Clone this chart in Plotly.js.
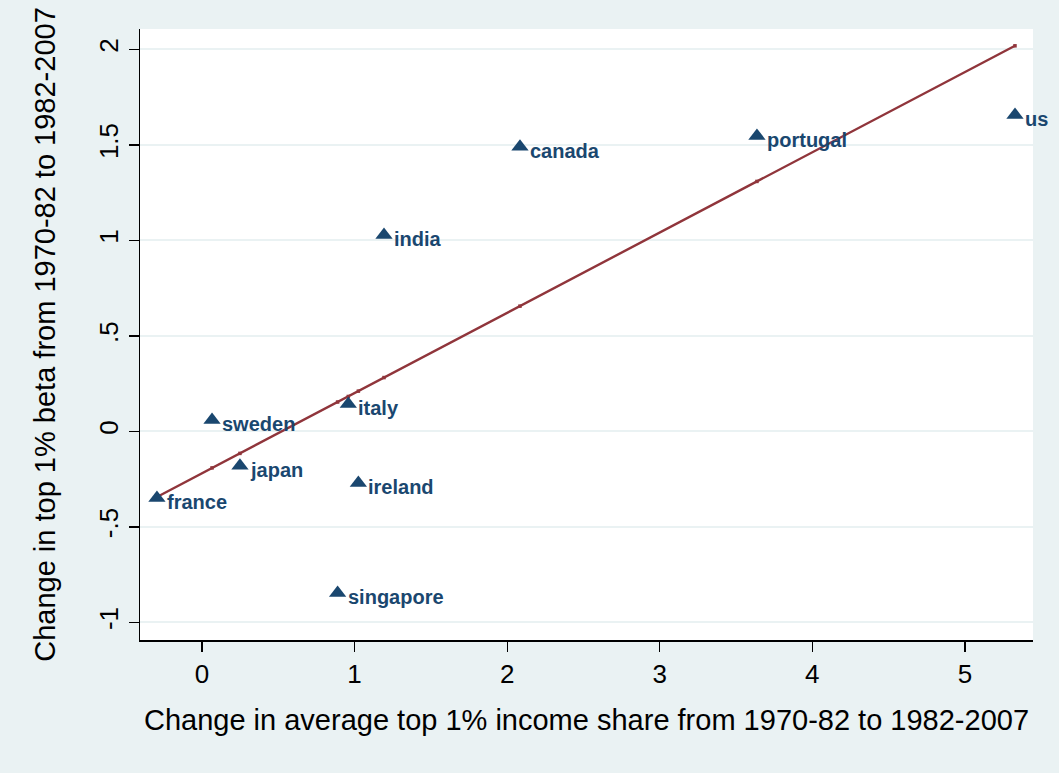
<!DOCTYPE html>
<html>
<head>
<meta charset="utf-8">
<script src="https://cdn.plot.ly/plotly-3.0.1.min.js"></script>
<style>
  html, body { margin: 0; padding: 0; background: #eaf2f3; }
  #chart { width: 1059px; height: 773px; }
</style>
</head>
<body>
<div id="chart"></div>
<script>
// Countries and their changes between 1970-82 and 1982-2007
const countries = ["france", "sweden", "japan", "italy", "ireland", "singapore", "india", "canada", "portugal", "us"];
// Change in average top 1% income share (x)
const shareChange = [-0.295, 0.066, 0.249, 0.959, 1.025, 0.889, 1.193, 2.084, 3.637, 5.328];
// Change in top 1% beta (y)
const betaChange = [-0.348, 0.060, -0.180, 0.144, -0.270, -0.846, 1.029, 1.491, 1.547, 1.657];
// Fitted values of the linear fit at each x
const fittedBeta = [-0.343, -0.191, -0.115, 0.183, 0.211, 0.154, 0.282, 0.656, 1.309, 2.019];

const xTicks = [0, 1, 2, 3, 4, 5];
const xTickText = ["0", "1", "2", "3", "4", "5"];
const yTicks = [-1, -0.5, 0, 0.5, 1, 1.5, 2];
const yTickText = ["-1", "-.5", "0", ".5", "1", "1.5", "2"];

const navy = "#1a476f";
const maroon = "#90353b";
const font = "Liberation Sans, Arial, sans-serif";

// sort fitted points by x so the line is drawn left to right
const order = shareChange.map((v, i) => i).sort((a, b) => shareChange[a] - shareChange[b]);

const fitTrace = {
  type: "scatter",
  mode: "lines+markers",
  x: order.map(i => shareChange[i]),
  y: order.map(i => fittedBeta[i]),
  line: { color: maroon, width: 2.4 },
  marker: { color: maroon, size: 3.5, symbol: "square" },
  hoverinfo: "skip",
  cliponaxis: false,
  showlegend: false
};

const pointTrace = {
  type: "scatter",
  mode: "markers",
  x: shareChange,
  y: betaChange,
  marker: { symbol: "triangle-up", size: 15, color: navy },
  cliponaxis: false,
  showlegend: false
};

// country labels to the right of each marker
const labels = countries.map((name, i) => ({
  x: shareChange[i],
  y: betaChange[i],
  text: name,
  showarrow: false,
  xanchor: "left",
  yanchor: "middle",
  xshift: 8,
  yshift: -4,
  font: { family: font, size: 20, color: navy, weight: "bold" }
}));

const layout = {
  width: 1059,
  height: 773,
  paper_bgcolor: "#eaf2f3",
  plot_bgcolor: "#ffffff",
  margin: { l: 140, r: 26, t: 29, b: 133 },
  font: { family: font, color: "#000000" },
  annotations: labels,
  xaxis: {
    range: [-0.406, 5.446],
    tickvals: xTicks,
    ticktext: xTickText,
    ticks: "outside",
    ticklen: 10,
    tickwidth: 1.2,
    tickcolor: "#000000",
    tickfont: { size: 26 },
    showgrid: false,
    zeroline: false,
    showline: true,
    linecolor: "#000000",
    linewidth: 1.5,
    title: { text: "Change in average top 1% income share from 1970-82 to 1982-2007", font: { size: 29 }, standoff: 22 }
  },
  yaxis: {
    range: [-1.092, 2.107],
    tickvals: yTicks,
    ticktext: yTickText,
    tickangle: -90,
    ticks: "outside",
    ticklen: 10,
    tickwidth: 1.2,
    tickcolor: "#000000",
    tickfont: { size: 26 },
    showgrid: true,
    gridcolor: "#eaf2f3",
    gridwidth: 2,
    zeroline: false,
    showline: true,
    linecolor: "#000000",
    linewidth: 1.5,
    title: { text: "Change in top 1% beta from 1970-82 to 1982-2007", font: { size: 29 }, standoff: 30 }
  }
};

Plotly.newPlot("chart", [fitTrace, pointTrace], layout, { staticPlot: true, displayModeBar: false });
</script>
</body>
</html>
